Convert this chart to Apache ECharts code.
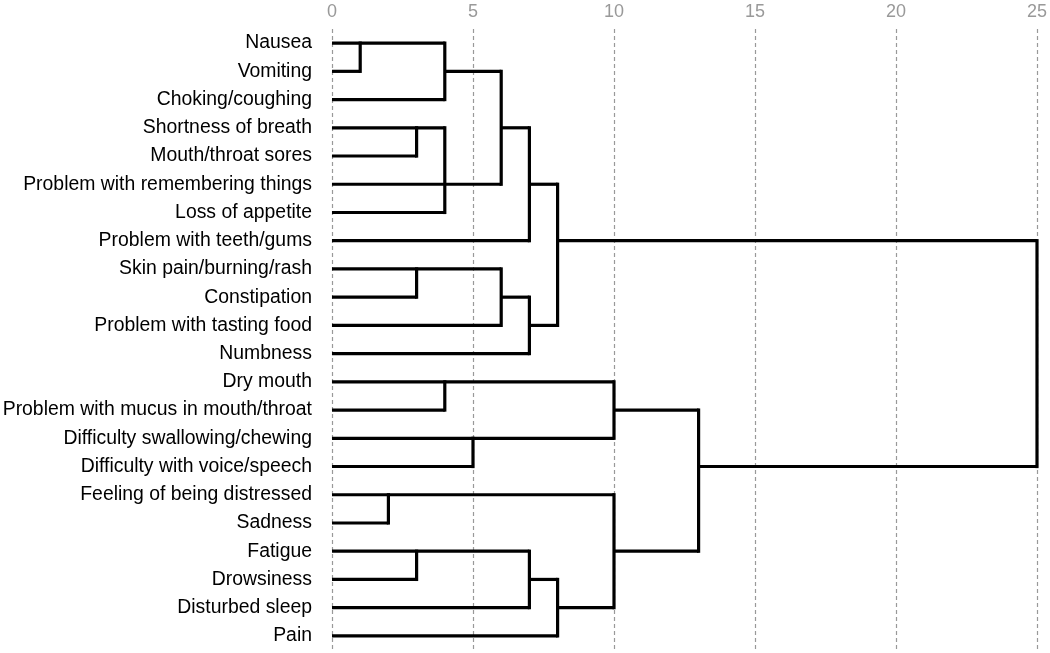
<!DOCTYPE html>
<html>
<head>
<meta charset="utf-8">
<script src="https://cdn.jsdelivr.net/npm/echarts@6/dist/echarts.min.js"></script>
<style>html,body{margin:0;padding:0;background:#fff}#c{width:1050px;height:653px}</style>
</head>
<body>
<div id="c"></div>
<script>
// Leaves, top to bottom
const leaves = [
  "Nausea","Vomiting","Choking/coughing","Shortness of breath","Mouth/throat sores",
  "Problem with remembering things","Loss of appetite","Problem with teeth/gums",
  "Skin pain/burning/rash","Constipation","Problem with tasting food","Numbness",
  "Dry mouth","Problem with mucus in mouth/throat","Difficulty swallowing/chewing",
  "Difficulty with voice/speech","Feeling of being distressed","Sadness","Fatigue",
  "Drowsiness","Disturbed sleep","Pain"
];
// distance each leaf's own horizontal line reaches
const leafReach = [4,1,4,4,3,6,4,7,6,3,6,7,10,4,10,5,10,2,7,3,7,8];
// joins: distance of the vertical, its top and bottom row, row of the outgoing line and where it ends
const joinDist = [1,4,3,4,6,7,3,6,7,8,4,5,10,2,3,7,8,10,13,25];
const joinFrom = [0,0,3,3,1,3,8,8,9,5,12,14,12,16,18,18,19,16,13,7];
const joinTo   = [1,2,4,6,5,7,9,10,11,10,13,15,14,17,19,20,21,20,18,15];
const outRow   = [null,1,null,null,3,5,null,9,10,7,null,null,13,null,null,19,20,18,15,null];
const outTo    = [null,6,null,null,7,8,null,7,8,25,null,null,13,null,null,8,10,13,25,null];
// axis ticks
const tickMin = 0, tickMax = 25, tickStep = 5;

const hData = [], vData = [];
leaves.forEach((n, i) => hData.push([0, leafReach[i], i]));
joinDist.forEach((d, k) => {
  vData.push([d, joinFrom[k], joinTo[k]]);
  if (outRow[k] !== null) hData.push([d, outTo[k], outRow[k]]);
});

const LW = 3.2;
const chart = echarts.init(document.getElementById('c'), null, {renderer: 'canvas'});
chart.setOption({
  animation: false,
  backgroundColor: '#fff',
  grid: {left: 332, right: 13, top: 29, bottom: 3, containLabel: false, outerBoundsMode: 'none'},
  xAxis: {
    type: 'value', position: 'top', min: tickMin, max: tickMax, interval: tickStep,
    axisLine: {show: false}, axisTick: {show: false},
    axisLabel: {color: '#999', fontSize: 18, fontFamily: 'Liberation Sans, Arial, sans-serif', margin: 8},
    splitLine: {show: true, lineStyle: {color: '#999', width: 1.2, type: [4, 3]}}
  },
  yAxis: {
    type: 'category', data: leaves, inverse: true, boundaryGap: true,
    axisLine: {show: false}, axisTick: {show: false}, splitLine: {show: false},
    axisLabel: {color: '#000', fontSize: 19.4, fontFamily: 'Liberation Sans, Arial, sans-serif', margin: 20}
  },
  series: [
    {
      type: 'custom', data: hData, encode: {x: [0, 1], y: 2},
      renderItem: function (params, api) {
        const a = api.coord([api.value(0), api.value(2)]);
        const b = api.coord([api.value(1), api.value(2)]);
        return {type: 'line', shape: {x1: a[0], y1: a[1], x2: b[0], y2: b[1]},
          style: {stroke: '#000', lineWidth: LW, lineCap: 'butt'}};
      }
    },
    {
      type: 'custom', data: vData, encode: {x: 0, y: [1, 2]},
      renderItem: function (params, api) {
        const a = api.coord([api.value(0), api.value(1)]);
        const b = api.coord([api.value(0), api.value(2)]);
        return {type: 'line', shape: {x1: a[0], y1: a[1], x2: b[0], y2: b[1]},
          style: {stroke: '#000', lineWidth: LW, lineCap: 'square'}};
      }
    }
  ]
});
</script>
</body>
</html>
